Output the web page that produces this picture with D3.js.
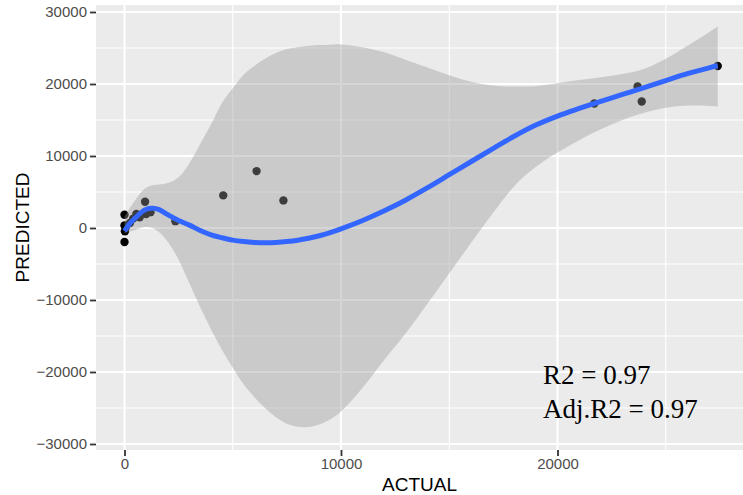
<!DOCTYPE html>
<html>
<head>
<meta charset="utf-8">
<script src="https://cdn.jsdelivr.net/npm/d3@7/dist/d3.min.js"></script>
<style>
  html, body { margin: 0; padding: 0; background: #ffffff; }
  svg { display: block; }
</style>
</head>
<body>
<svg id="chart" width="743" height="495"></svg>
<script>
// Observed values
const actual    = [0, 20, 0, 60, 0, 250, 400, 550, 700, 950, 1000, 1200, 2350, 4560, 6100, 7340, 21700, 23700, 23890, 27400];
const predicted = [-1950, -450, 350, 100, 1850, 700, 1300, 1950, 1500, 3650, 1950, 2200, 950, 4530, 7900, 3830, 17300, 19650, 17570, 22500];

// Smoothed fit with its confidence band
const smoothX    = [0, 250, 500, 750, 1000, 1300, 1600, 2000, 2500, 3000, 3500, 4000, 4500, 5000, 5500, 6000, 6500, 7000, 7500, 8000, 8500, 9000, 9500, 10000, 11000, 12000, 13000, 14000, 15000, 16000, 17000, 18000, 19000, 20000, 21000, 22000, 23000, 24000, 25000, 26000, 27000, 27400];
const smoothFit  = [-400, 650, 1400, 2100, 2600, 2740, 2550, 1850, 1050, 400, -350, -950, -1350, -1680, -1880, -2000, -2050, -2000, -1880, -1700, -1430, -1080, -640, -120, 1050, 2400, 3900, 5600, 7400, 9200, 11000, 12750, 14300, 15550, 16600, 17600, 18550, 19500, 20480, 21430, 22250, 22540];
const smoothHigh = [1500, 2800, 3900, 4900, 5600, 5950, 6050, 6250, 7050, 9000, 11700, 14400, 17350, 19400, 21300, 22500, 23550, 24300, 24850, 25100, 25300, 25400, 25450, 25500, 25100, 24400, 23350, 22300, 21200, 20300, 19800, 19650, 19700, 20100, 20550, 20950, 21400, 22100, 23500, 25300, 27200, 28000];
const smoothLow  = [-750, -500, -280, 0, 150, 0, -600, -1900, -4400, -7700, -11000, -14100, -16900, -19400, -21700, -23500, -25050, -26300, -27200, -27600, -27650, -27300, -26600, -25500, -22200, -18300, -14600, -10500, -6300, -2100, 2000, 5800, 8500, 10500, 12200, 13700, 15000, 16000, 16700, 17000, 16950, 16870];

// Axis ticks and labels
const xMajor = [0, 10000, 20000];
const xMinor = [5000, 15000, 25000];
const yMajor = [-30000, -20000, -10000, 0, 10000, 20000, 30000];
const yMinor = [-25000, -15000, -5000, 5000, 15000, 25000];
const statLines = ["R2 = 0.97", "Adj.R2 = 0.97"];

const svg = d3.select("#chart");
const W = 743, H = 495;
const panel = { left: 96, right: 743, top: 5, bottom: 450 };

const x = d3.scaleLinear().domain([0, 20000]).range([124.5, 557.5]);
const y = d3.scaleLinear().domain([-30000, 30000]).range([444, 12]);

svg.append("defs").append("clipPath").attr("id", "panelClip")
  .append("rect")
  .attr("x", panel.left).attr("y", panel.top)
  .attr("width", panel.right - panel.left).attr("height", panel.bottom - panel.top);

// Panel background
svg.append("rect")
  .attr("x", panel.left).attr("y", panel.top)
  .attr("width", panel.right - panel.left).attr("height", panel.bottom - panel.top)
  .attr("fill", "#EBEBEB");

const grid = svg.append("g").attr("clip-path", "url(#panelClip)");
grid.selectAll("line.xminor").data(xMinor).join("line")
  .attr("x1", d => x(d)).attr("x2", d => x(d))
  .attr("y1", panel.top).attr("y2", panel.bottom)
  .attr("stroke", "#ffffff").attr("stroke-width", 1.1);
grid.selectAll("line.yminor").data(yMinor).join("line")
  .attr("y1", d => y(d)).attr("y2", d => y(d))
  .attr("x1", panel.left).attr("x2", panel.right)
  .attr("stroke", "#ffffff").attr("stroke-width", 1.1);
grid.selectAll("line.xmajor").data(xMajor).join("line")
  .attr("x1", d => x(d)).attr("x2", d => x(d))
  .attr("y1", panel.top).attr("y2", panel.bottom)
  .attr("stroke", "#ffffff").attr("stroke-width", 2.1);
grid.selectAll("line.ymajor").data(yMajor).join("line")
  .attr("y1", d => y(d)).attr("y2", d => y(d))
  .attr("x1", panel.left).attr("x2", panel.right)
  .attr("stroke", "#ffffff").attr("stroke-width", 2.1);

const plot = svg.append("g").attr("clip-path", "url(#panelClip)");

// Points
const pts = actual.map((a, i) => ({ a, p: predicted[i] }));
plot.selectAll("circle").data(pts).join("circle")
  .attr("cx", d => x(d.a)).attr("cy", d => y(d.p))
  .attr("r", 4.2).attr("fill", "#000000");

// Confidence band
const band = smoothX.map((v, i) => ({ v, lo: smoothLow[i], hi: smoothHigh[i], fit: smoothFit[i] }));
const smoothCurve = d3.curveCatmullRom.alpha(0.5);
plot.append("path").datum(band)
  .attr("d", d3.area().x(d => x(d.v)).y0(d => y(d.lo)).y1(d => y(d.hi)).curve(smoothCurve))
  .attr("fill", "#999999").attr("fill-opacity", 0.4);

// Fitted line
plot.append("path").datum(band)
  .attr("d", d3.line().x(d => x(d.v)).y(d => y(d.fit)).curve(smoothCurve))
  .attr("fill", "none").attr("stroke", "#3366FF").attr("stroke-width", 5)
  .attr("stroke-linecap", "butt");

// Axes
const yAxis = d3.axisLeft(y).tickValues(yMajor).tickSize(6).tickPadding(3).tickFormat(d3.format("d"));
const gy = svg.append("g").attr("transform", `translate(${panel.left},0)`).call(yAxis);
gy.select(".domain").remove();
gy.selectAll(".tick line").attr("stroke", "#333333").attr("stroke-width", 1.8);
gy.selectAll(".tick text").attr("fill", "#4D4D4D")
  .style("font-family", "'Liberation Sans', Arial, sans-serif").style("font-size", "15px");

const xAxis = d3.axisBottom(x).tickValues(xMajor).tickSize(6).tickPadding(2).tickFormat(d3.format("d"));
const gx = svg.append("g").attr("transform", `translate(0,${panel.bottom})`).call(xAxis);
gx.select(".domain").remove();
gx.selectAll(".tick line").attr("stroke", "#333333").attr("stroke-width", 1.8);
gx.selectAll(".tick text").attr("fill", "#4D4D4D")
  .style("font-family", "'Liberation Sans', Arial, sans-serif").style("font-size", "15px");

// Axis titles
svg.append("text")
  .attr("x", (panel.left + W) / 2).attr("y", 490.5)
  .attr("text-anchor", "middle")
  .style("font-family", "'Liberation Sans', Arial, sans-serif").style("font-size", "19px")
  .attr("fill", "#000000").text("ACTUAL");

svg.append("text")
  .attr("transform", `translate(29,${(panel.top + panel.bottom) / 2}) rotate(-90)`)
  .attr("text-anchor", "middle")
  .style("font-family", "'Liberation Sans', Arial, sans-serif").style("font-size", "19px")
  .attr("fill", "#000000").text("PREDICTED");

// Fit statistics
svg.selectAll("text.stat").data(statLines).join("text")
  .attr("class", "stat")
  .attr("x", 543).attr("y", (d, i) => 384 + i * 34.3)
  .style("font-family", "'Liberation Serif', 'Times New Roman', serif").style("font-size", "27px")
  .attr("fill", "#000000").text(d => d);
</script>
</body>
</html>
